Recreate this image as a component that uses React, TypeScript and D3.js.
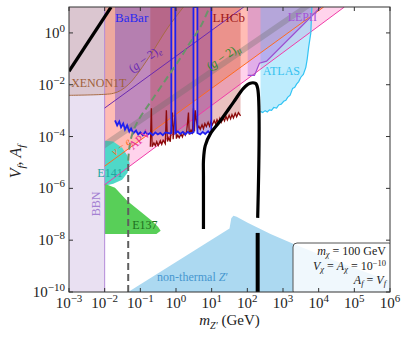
import React from 'react';
import * as d3 from 'd3';

const W = 408;
const H = 339;
const M = { top: 7, right: 18, bottom: 47, left: 69 };

// every curve below is [log10(m_Z' / GeV), log10(coupling)]
const bbnBox = [[-3, -10], [-2, -10], [-2, 1], [-3, 1]];
const xenonEdge = [[-3, -2.41], [-1.99, -2.37], [-1.75, -2.33], [-1.55, -2.22], [-1.34, -2.0], [-1.14, -1.69], [-0.72, -0.86], [-0.22, 0.22], [0.21, 1]];
const nuEEdge = [[-2, -5.14], [4.14, 1]];
const apvEdge = [[-2, -5.86], [4.72, 1]];
const g2eLine = [[-2, -2.9], [1.9, 1]];
const g2muUpper = [[-2, -4.18], [3.5, 1]];
const g2muLower = [[-2, -4.46], [3.78, 1]];
const babarEdge = [
  [-1.71, -3.38], [-1.65, -3.57], [-1.59, -3.42], [-1.54, -3.65], [-1.48, -3.5], [-1.43, -3.73],
  [-1.37, -3.57], [-1.31, -3.81], [-1.26, -3.69], [-1.2, -3.88], [-1.12, -3.77], [-1.06, -3.92],
  [-1.0, -3.84], [-0.93, -3.95], [-0.86, -3.81], [-0.79, -3.92], [-0.72, -3.86], [-0.65, -3.95],
  [-0.58, -3.84], [-0.51, -3.92], [-0.44, -3.86], [-0.37, -3.95], [-0.3, -3.84], [-0.16, -3.88],
  [-0.13, -3.86], [-0.13, 1], [-0.02, 1], [-0.02, -3.88], [0.05, -3.8], [0.12, -3.9], [0.19, -3.82],
  [0.26, -3.92], [0.33, -3.82], [0.4, -3.88], [0.49, -3.84], [0.49, 1], [0.6, 1], [0.6, -3.86],
  [0.68, -3.92], [0.75, -3.82], [0.82, -3.9], [0.9, -3.8], [0.97, -3.9], [0.99, -3.84], [0.99, 1],
];
const lhcbEdge = [
  [-0.72, -4.39], [-0.69, -2.91], [-0.67, -4.39], [-0.62, -4.25], [-0.58, -4.35], [-0.54, -4.2],
  [-0.5, -4.35], [-0.44, -4.16], [-0.4, -4.3], [-0.36, -4.14], [-0.3, -4.28], [-0.27, -2.99],
  [-0.24, -4.19], [-0.2, -4.05], [-0.16, -4.2], [-0.1, -3.07], [-0.08, -4.1], [-0.02, -2.99],
  [0.01, -4.08], [0.05, -3.95], [0.09, -4.05], [0.14, -3.9], [0.18, -4.02], [0.22, -3.85],
  [0.26, -3.95], [0.3, -3.8], [0.35, -3.07], [0.37, -3.92], [0.42, -3.75], [0.46, -3.85],
  [0.49, -2.91], [0.52, -3.8], [0.54, -2.99], [0.6, -3.7], [0.64, -3.6], [0.68, -3.72],
  [0.73, -3.55], [0.77, -3.7], [0.81, -3.5], [0.85, -3.62], [0.9, -3.45], [0.94, -3.6],
  [0.98, -3.42], [1.02, -3.55], [1.07, -3.38], [1.11, -3.52], [1.15, -3.35], [1.19, -3.48],
  [1.23, -3.3], [1.27, -3.45], [1.32, -3.28], [1.36, -3.4], [1.4, -3.22], [1.44, -3.36],
  [1.49, -3.18], [1.53, -3.32], [1.57, -3.15], [1.61, -3.28], [1.66, -3.1], [1.7, -3.24],
  [1.75, -3.08], [1.81, -3.2],
];
const lepEdge = [[2.01, 1], [2.01, -1.64], [2.2, -1.64], [2.34, -1.17], [2.54, -1.09], [4.06, 1]];
const atlasEdge = [
  [2.37, 1], [2.37, -3.03], [2.43, -3.07], [2.5, -3.0], [2.56, -3.05], [2.62, -2.97], [2.68, -2.99],
  [2.74, -2.88], [2.82, -2.9], [2.88, -2.78], [2.95, -2.75], [3.02, -2.64], [3.08, -2.6], [3.13, -2.49],
  [3.2, -2.4], [3.27, -2.14], [3.33, -2.1], [3.38, -1.98], [3.44, -1.88], [3.5, -1.71], [3.57, -1.6],
  [3.64, -1.33], [3.68, -1.0], [3.72, -0.55], [3.78, 0.0], [3.81, 1],
];
const e141Edge = [[-2, -4.16], [-1.76, -4.19], [-1.51, -4.43], [-1.36, -4.74], [-1.3, -5.05], [-1.36, -5.4], [-1.51, -5.67], [-1.76, -5.82], [-2, -5.9]];
const e137Edge = [[-2, -5.82], [-1.71, -5.98], [-1.37, -6.48], [-0.92, -6.98], [-0.67, -7.26], [-0.5, -7.49], [-0.43, -7.64], [-0.55, -7.76], [-2, -7.76]];
const nonThermalEdge = [[-1.34, -10], [1.5, -7.55], [1.55, -7.15], [1.61, -7.06], [1.7, -7.1], [2.01, -7.33], [2.65, -7.76], [3.3, -8.15], [4.62, -8.88], [6, -9.58], [6, -10]];
const relicLeft = [[-3, -1.48], [-1.82, 1]];
const relicMain = [[0.77, -7.57], [0.77, -5.51], [0.77, -4.93], [0.82, -4.35], [0.97, -3.88], [1.25, -3.38], [1.61, -2.68], [1.89, -2.14], [2.06, -1.95], [2.23, -1.95], [2.29, -2.14], [2.29, -7.14]];
const relicRes = [[2.29, -7.72], [2.29, -10]];
const dashVertical = [[-1.34, -10], [-1.34, -4.93]];
const dashCurve = [[-1.34, -4.93], [-1.31, -4.47], [-1.23, -3.92], [-1.06, -3.38], [-0.72, -2.68], [-0.3, -1.83], [0.12, -0.98], [0.4, -0.36], [0.68, 0.22], [0.94, 1]];

const xTicks = [-3, -2, -1, 0, 1, 2, 3, 4, 5, 6];
const yTicks = [0, -2, -4, -6, -8, -10];

const x = d3.scaleLog().domain([1e-3, 1e6]).range([M.left, W - M.right]);
const y = d3.scaleLog().domain([1e-10, 1e1]).range([H - M.bottom, M.top]);
const X = (lm: number) => x(10 ** lm);
const Y = (lv: number) => y(10 ** lv);
const line = d3.line<number[]>().x(d => X(d[0])).y(d => Y(d[1]));
const smooth = d3.line<number[]>().x(d => X(d[0])).y(d => Y(d[1])).curve(d3.curveCatmullRom);
const poly = (pts: number[][]) => line(pts) + 'Z';
const above = (pts: number[][], left: number, right: number) => poly([...pts, [right, 1], [left, 1]]);

const sup = (s: string) => <tspan dy={-6} fontSize={11}>{s}</tspan>;

export default function App() {
  const font = "'Liberation Serif', 'DejaVu Serif', serif";
  const x0 = M.left, x1 = W - M.right, y0 = M.top, y1 = H - M.bottom;
  const lbl = (lm: number, lv: number, rot: number) => `translate(${X(lm)},${Y(lv)}) rotate(${rot})`;
  const last = (pts: number[][]) => pts[pts.length - 1][0];
  return (
    <svg width={W} height={H} style={{ display: 'block', position: 'absolute', left: 0, top: 0 }} fontFamily={font}>
      <defs>
        <clipPath id="plot"><rect x={x0} y={y0} width={x1 - x0} height={y1 - y0} /></clipPath>
      </defs>
      <rect width={W} height={H} fill="#fff" />
      <g clipPath="url(#plot)">
        <path d={poly(bbnBox)} fill="#e9e0f2" />
        <path d={poly(nonThermalEdge)} fill="#acd9f1" />
        <path d={above(apvEdge, -2, last(apvEdge))} fill="rgba(255,140,205,0.38)" />
        <path d={above(nuEEdge, -2, last(nuEEdge))} fill="rgba(255,160,115,0.45)" />
        <path d={above(xenonEdge, -3, last(xenonEdge))} fill="rgba(165,95,75,0.2)" />
        <path d={above(babarEdge, -1.71, last(babarEdge))} fill="rgba(105,70,200,0.42)" />
        <path d={above(lhcbEdge, -0.72, last(lhcbEdge))} fill="rgba(190,50,45,0.3)" />
        <path d={poly(atlasEdge)} fill="rgba(110,212,250,0.45)" />
        <path d={poly(lepEdge)} fill="rgba(165,100,230,0.33)" />
        <path d={poly(e141Edge)} fill="#4fd8c8" />
        <path d={poly(e137Edge)} fill="#58cf58" />
        <path d={poly([...g2muUpper, ...[...g2muLower].reverse()])} fill="rgba(105,110,105,0.33)" />

        <path d={line([[-2, -10], [-2, 1]]) || ''} stroke="#b48ad8" strokeWidth={1} fill="none" />
        <path d={smooth(xenonEdge) || ''} stroke="#a86a44" strokeWidth={1} fill="none" />
        <path d={line(nuEEdge) || ''} stroke="#ff6a1e" strokeWidth={1} fill="none" />
        <path d={line(apvEdge) || ''} stroke="#f03ca8" strokeWidth={1} fill="none" />
        <path d={line(g2eLine) || ''} stroke="#6a2ab0" strokeWidth={1} fill="none" />
        <path d={line(lepEdge.slice(1)) || ''} stroke="#9b4fd0" strokeWidth={1.2} fill="none" />
        <path d={line(atlasEdge.slice(1)) || ''} stroke="#33c4f4" strokeWidth={1.2} fill="none" />
        <path d={line(lhcbEdge) || ''} stroke="#8b0a0a" strokeWidth={1.3} fill="none" />
        <path d={line(babarEdge) || ''} stroke="#1f1ff0" strokeWidth={1.8} fill="none" />

        <path d={line(dashVertical) || ''} stroke="#5f5f5f" strokeWidth={2} strokeDasharray="7,4" fill="none" />
        <path d={smooth(dashCurve) || ''} stroke="#6b936b" strokeWidth={2} strokeDasharray="7,4" fill="none" />

        <path d={line(relicLeft) || ''} stroke="#000" strokeWidth={3.2} fill="none" />
        <path d={smooth(relicMain) || ''} stroke="#000" strokeWidth={3.2} fill="none" strokeLinejoin="round" />
        <path d={line(relicRes) || ''} stroke="#000" strokeWidth={4} fill="none" />

        <text x={X(-1.71)} y={Y(0.42)} fontSize={13} fill="#2a2af0">BaBar</text>
        <text x={X(1.02)} y={Y(0.42)} fontSize={13} fill="#a01818">LHCb</text>
        <text x={X(3.13)} y={Y(0.46)} fontSize={12} fill="#a452d6">LEPII</text>
        <text x={X(2.43)} y={Y(-1.64)} fontSize={12} fill="#36c2f0">ATLAS</text>
        <text x={X(-2.94)} y={Y(-2.1)} fontSize={12} fill="#a0603a">XENON1T</text>
        <text transform={lbl(-0.81, -1.13, -36)} textAnchor="middle" fontSize={12} fill="#6a2ab0">
          (<tspan fontStyle="italic">g</tspan> − 2)<tspan dy={3} fontSize={9} fontStyle="italic">e</tspan>
        </text>
        <text transform={lbl(1.39, -1.05, -35)} textAnchor="middle" fontSize={12} fill="#2e8b2e">
          (<tspan fontStyle="italic">g</tspan> − 2)<tspan dy={3} fontSize={9} fontStyle="italic">μ</tspan>
        </text>
        <text transform={lbl(-1.48, -4.5, -38)} textAnchor="middle" fontSize={11} fill="#ff6a1e">
          <tspan fontStyle="italic">ν</tspan> − <tspan fontStyle="italic">e</tspan>
        </text>
        <text transform={lbl(-0.95, -4.23, -40)} textAnchor="middle" fontSize={12} fill="#e8309a">APV</text>
        <text x={X(-1.85)} y={Y(-5.55)} textAnchor="middle" fontSize={12} fill="#1fa79f">E141</text>
        <text x={X(-1.23)} y={Y(-7.57)} fontSize={12} fill="#1e6e1e">E137</text>
        <text transform={lbl(-2.12, -6.6, -90)} textAnchor="middle" fontSize={12} fill="#a481d2">BBN</text>
        <text x={X(-0.53)} y={Y(-9.58)} fontSize={12} fill="#4797cf">
          non-thermal <tspan fontStyle="italic">Z</tspan>′
        </text>

        <rect x={x1 - 97} y={y1 - 49} width={100} height={52} rx={4} fill="rgba(255,255,255,0.82)" stroke="#555" strokeWidth={1} />
        <g fontSize={12} textAnchor="end" fill="#222">
          <text x={x1 - 4} y={y1 - 37}>
            <tspan fontStyle="italic">m</tspan><tspan dy={2} fontSize={8.5} fontStyle="italic">χ</tspan><tspan dy={-2}> = 100 GeV</tspan>
          </text>
          <text x={x1 - 4} y={y1 - 22}>
            <tspan fontStyle="italic">V</tspan><tspan dy={2} fontSize={8.5} fontStyle="italic">χ</tspan><tspan dy={-2}> = </tspan>
            <tspan fontStyle="italic">A</tspan><tspan dy={2} fontSize={8.5} fontStyle="italic">χ</tspan><tspan dy={-2}> = 10</tspan>
            <tspan dy={-4} fontSize={8.5}>−10</tspan>
          </text>
          <text x={x1 - 4} y={y1 - 8}>
            <tspan fontStyle="italic">A</tspan><tspan dy={2} fontSize={8.5} fontStyle="italic">f</tspan><tspan dy={-2}> = </tspan>
            <tspan fontStyle="italic">V</tspan><tspan dy={2} fontSize={8.5} fontStyle="italic">f</tspan>
          </text>
        </g>
      </g>

      <rect x={x0} y={y0} width={x1 - x0} height={y1 - y0} fill="none" stroke="#333" strokeWidth={1} />
      {xTicks.map(t => (
        <g key={'x' + t}>
          <line x1={X(t)} x2={X(t)} y1={y1} y2={y1 - 4} stroke="#333" />
          <line x1={X(t)} x2={X(t)} y1={y0} y2={y0 + 4} stroke="#333" />
          <text x={X(t)} y={y1 + 16} textAnchor="middle" fontSize={15} fill="#222">
            10{sup(t < 0 ? '−' + -t : String(t))}
          </text>
        </g>
      ))}
      {yTicks.map(t => (
        <g key={'y' + t}>
          <line x1={x0} x2={x0 + 4} y1={Y(t)} y2={Y(t)} stroke="#333" />
          <line x1={x1} x2={x1 - 4} y1={Y(t)} y2={Y(t)} stroke="#333" />
          <text x={x0 - 4} y={Y(t) + 5} textAnchor="end" fontSize={15} fill="#222">
            10{sup(t < 0 ? '−' + -t : String(t))}
          </text>
        </g>
      ))}
      <text x={(x0 + x1) / 2} y={H - 14} textAnchor="middle" fontSize={15} fill="#222">
        <tspan fontStyle="italic">m</tspan><tspan dy={4} fontSize={10} fontStyle="italic">Z′</tspan><tspan dy={-4}> (GeV)</tspan>
      </text>
      <text transform={`translate(21,${(y0 + y1) / 2 + 12}) rotate(-90)`} textAnchor="middle" fontSize={16} fill="#222">
        <tspan fontStyle="italic">V</tspan><tspan dy={4} fontSize={11} fontStyle="italic">f</tspan><tspan dy={-4}>, </tspan>
        <tspan fontStyle="italic">A</tspan><tspan dy={4} fontSize={11} fontStyle="italic">f</tspan>
      </text>
    </svg>
  );
}
